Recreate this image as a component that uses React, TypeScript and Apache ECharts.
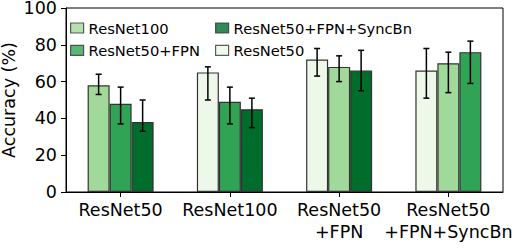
import React, { useEffect, useRef } from "react";
import * as echarts from "echarts";

const categories = ["ResNet50", "ResNet100", "ResNet50\n+FPN", "ResNet50\n+FPN+SyncBn"];
const methods = ["ResNet100", "ResNet50+FPN", "ResNet50+FPN+SyncBn", "ResNet50"];
const methodColors: Record<string, string> = {
  "ResNet50": "#edf8e9",
  "ResNet100": "#a1d99b",
  "ResNet50+FPN": "#31a354",
  "ResNet50+FPN+SyncBn": "#006d2c",
};
// which method each of the three bars in a group shows
const groupMethods = [
  ["ResNet100", "ResNet50+FPN", "ResNet50+FPN+SyncBn"],
  ["ResNet50", "ResNet50+FPN", "ResNet50+FPN+SyncBn"],
  ["ResNet50", "ResNet100", "ResNet50+FPN+SyncBn"],
  ["ResNet50", "ResNet100", "ResNet50+FPN"],
];
const means = [
  [58, 48, 38],
  [65, 49, 45],
  [72, 68, 66],
  [66, 70, 76],
];
const lows = [
  [53, 37, 33],
  [50, 37, 35],
  [63, 60, 55],
  [51, 54, 59],
];
const highs = [
  [64, 57, 50],
  [68, 57, 51],
  [78, 74, 77],
  [78, 76, 82],
];

const FONT = "DejaVu Sans";
const BAR_W = 22;
const EDGE = "#333333";

export default function App() {
  const ref = useRef<HTMLDivElement>(null);
  useEffect(() => {
    if (!ref.current) return;
    const chart = echarts.init(ref.current, null, { renderer: "svg" });

    const barSeries = [0, 1, 2].map((pos) => ({
      type: "bar",
      name: "pos" + pos,
      barWidth: BAR_W,
      barGap: "0%",
      data: categories.map((_, ci) => ({
        value: means[ci][pos],
        itemStyle: {
          color: methodColors[groupMethods[ci][pos]],
          borderColor: EDGE,
          borderWidth: 1.2,
        },
      })),
      z: 2,
    }));

    const errData: number[][] = [];
    categories.forEach((_, ci) => {
      [0, 1, 2].forEach((pos) => {
        errData.push([ci, lows[ci][pos], highs[ci][pos], pos]);
      });
    });

    const errSeries = {
      type: "custom",
      name: "err",
      data: errData,
      encode: { x: 0, y: [1, 2] },
      z: 5,
      renderItem: (params: any, api: any) => {
        const c = api.value(0);
        const lo = api.coord([c, api.value(1)]);
        const hi = api.coord([c, api.value(2)]);
        const x = lo[0] + (api.value(3) - 1) * BAR_W;
        const cap = 3;
        const style = { stroke: "#000", lineWidth: 1.5 };
        return {
          type: "group",
          children: [
            { type: "line", shape: { x1: x, y1: lo[1], x2: x, y2: hi[1] }, style },
            { type: "line", shape: { x1: x - cap, y1: lo[1], x2: x + cap, y2: lo[1] }, style },
            { type: "line", shape: { x1: x - cap, y1: hi[1], x2: x + cap, y2: hi[1] }, style },
          ],
        };
      },
    };

    const legendSeries = methods.map((m) => ({
      type: "scatter",
      name: m,
      data: [],
      itemStyle: { color: methodColors[m], borderColor: EDGE, borderWidth: 1.2 },
    }));

    const legendCommon = {
      orient: "vertical",
      icon: "rect",
      itemWidth: 13,
      itemHeight: 10,
      itemGap: 5.4,
      itemTextGap: 11,
      padding: 0,
      textStyle: { fontFamily: FONT, fontSize: 14.7, color: "#000", lineHeight: 17 },
      itemStyle: { borderColor: EDGE, borderWidth: 1.2 },
      selectedMode: false,
    };

    chart.setOption({
      animation: false,
      textStyle: { fontFamily: FONT },
      grid: {
        left: 66,
        right: 11,
        top: 8,
        bottom: 58,
        containLabel: false,
        outerBoundsMode: "none",
        show: true,
        borderColor: "#000",
        borderWidth: 1,
        backgroundColor: "transparent",
      },
      legend: [
        { ...legendCommon, left: 70, top: 19.5, data: ["ResNet100", "ResNet50+FPN"] },
        { ...legendCommon, left: 215, top: 19.5, data: ["ResNet50+FPN+SyncBn", "ResNet50"] },
      ],
      xAxis: {
        type: "category",
        data: categories,
        axisLine: { show: true, lineStyle: { color: "#000", width: 1 } },
        axisTick: { show: true, alignWithLabel: true, length: 5, lineStyle: { color: "#000" } },
        axisLabel: {
          fontFamily: FONT,
          fontSize: 17.5,
          color: "#000",
          margin: 7,
          lineHeight: 22,
          interval: 0,
        },
      },
      yAxis: {
        type: "value",
        min: 0,
        max: 100,
        interval: 20,
        name: "Accuracy (%)",
        nameLocation: "middle",
        nameGap: 48,
        nameMoveOverlap: false,
        nameTextStyle: { fontFamily: FONT, fontSize: 17.5, color: "#000" },
        splitLine: { show: false },
        axisLine: { show: true, lineStyle: { color: "#000", width: 1 } },
        axisTick: { show: true, length: 5, lineStyle: { color: "#000" } },
        axisLabel: {
          fontFamily: FONT,
          fontSize: 17.5,
          color: "#000",
          margin: 9,
          lineHeight: 16,
          padding: [2, 0, 0, 0],
        },
      },
      series: [...barSeries, errSeries, ...legendSeries],
    });

    return () => chart.dispose();
  }, []);

  return (
    <div
      ref={ref}
      style={{ position: "fixed", left: 0, top: 0, width: 514, height: 250, background: "#fff" }}
    />
  );
}
